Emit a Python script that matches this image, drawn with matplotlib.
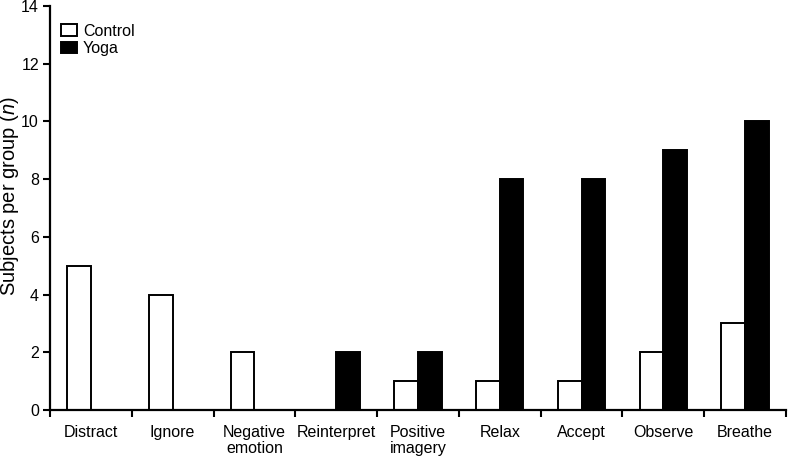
import matplotlib
matplotlib.use("Agg")
import matplotlib.pyplot as plt
import numpy as np

categories = ["Distract", "Ignore", "Negative\nemotion", "Reinterpret", "Positive\nimagery",
              "Relax", "Accept", "Observe", "Breathe"]
control = [5, 4, 2, 0, 1, 1, 1, 2, 3]
yoga = [0, 0, 0, 2, 2, 8, 8, 9, 10]

plt.rcParams['font.family'] = ['Liberation Sans', 'DejaVu Sans']
plt.rcParams['mathtext.fontset'] = 'custom'
plt.rcParams['mathtext.it'] = 'Liberation Sans:italic'
plt.rcParams['mathtext.rm'] = 'Liberation Sans'

fig = plt.figure(figsize=(7.88, 4.59), dpi=100)
ax = fig.add_axes([50/788, 49/459, 736/788, 404/459])

x = np.arange(len(categories))
w = 0.29
ax.bar(x - w/2, control, width=w, color='white', edgecolor='black', linewidth=1.4, label='Control')
ax.bar(x + w/2, yoga, width=w, color='black', edgecolor='black', linewidth=1.4, label='Yoga')

ax.set_xlim(-0.5, len(categories) - 0.5)
ax.set_ylim(0, 14)
ax.set_yticks(np.arange(0, 15, 2))
ax.set_xticks(np.arange(-0.5, len(categories), 1.0))
ax.set_xticklabels([])
ax.set_xticks(x, minor=True)
ax.set_xticklabels(categories, minor=True, fontsize=11.5, linespacing=1.1)
ax.tick_params(axis='x', which='minor', length=0, pad=11)
ax.tick_params(axis='x', which='major', length=5, width=1.5, direction='out')
ax.tick_params(axis='y', length=5, width=1.5, direction='out', labelsize=11.5, pad=3)

for s in ['top', 'right']:
    ax.spines[s].set_visible(False)
for s in ['left', 'bottom']:
    ax.spines[s].set_linewidth(1.6)

fig.text(10/788, 1 - 196/459, "Subjects per group ($\\mathit{n}$)", fontsize=14.5,
         rotation=90, ha='center', va='center')

ax.legend(loc='upper left', bbox_to_anchor=(-7/736, 1.0), frameon=False, fontsize=11.5,
          handlelength=1.0, handleheight=0.7, handletextpad=0.4, labelspacing=0.15,
          borderaxespad=0.8, borderpad=0.3)

fig.savefig("out.png", dpi=100)
